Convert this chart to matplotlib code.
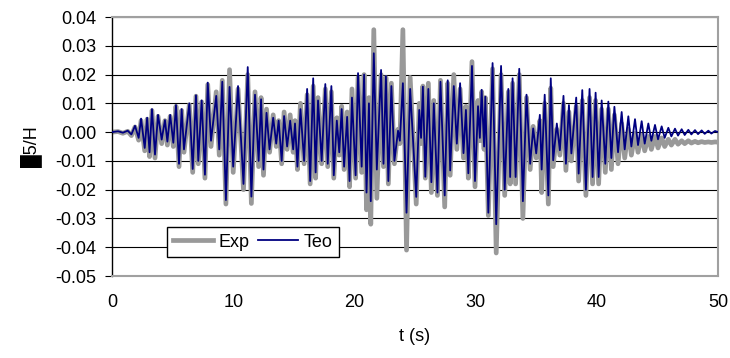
import numpy as np
import matplotlib
matplotlib.use("Agg")
import matplotlib.pyplot as plt

plt.rcParams["font.family"] = ["Liberation Sans", "DejaVu Sans"]

# turning points of both records (t in s, value = d5/H)
T_PTS = [
    0.0, 0.5, 0.9, 1.3, 1.6, 1.9, 2.2, 2.4, 2.7, 2.9,
    3.1, 3.3, 3.55, 3.8, 4.1, 4.37, 4.57, 4.8, 5.06, 5.28,
    5.53, 5.75, 5.94, 6.38, 6.66, 6.93, 7.12, 7.4, 7.67, 7.9,
    8.17, 8.6, 8.85, 9.1, 9.4, 9.7, 10.0, 10.4, 10.85, 11.2,
    11.5, 11.8, 12.1, 12.3, 12.5, 12.75, 13.0, 13.3, 13.55, 13.75,
    14.0, 14.2, 14.45, 14.7, 14.95, 15.1, 15.3, 15.55, 15.85, 16.1,
    16.35, 16.6, 16.8, 17.0, 17.3, 17.6, 17.8, 18.1, 18.3, 18.55,
    18.75, 18.95, 19.15, 19.4, 19.6, 19.8, 20.1, 20.3, 20.6, 20.8,
    21.0, 21.2, 21.35, 21.6, 21.85, 22.2, 22.4, 22.6, 22.8, 23.05,
    23.3, 23.6, 23.75, 24.0, 24.3, 24.6, 25.1, 25.35, 25.5, 25.65,
    25.85, 26.1, 26.35, 26.55, 26.85, 27.1, 27.45, 27.7, 27.9, 28.2,
    28.45, 28.72, 29.0, 29.2, 29.4, 29.7, 29.95, 30.2, 30.35, 30.5,
    30.7, 30.8, 31.05, 31.4, 31.7, 32.1, 32.4, 32.7, 32.85, 33.05,
    33.3, 33.6, 33.9, 34.2, 34.5, 34.75, 35.0, 35.3, 35.45, 35.7,
    36.0, 36.2, 36.4, 36.7, 36.95, 37.25, 37.45, 37.7, 37.9, 38.3,
    38.5, 38.8, 39.1, 39.4, 39.65, 39.9, 40.15, 40.4, 40.7, 40.95,
    41.2, 41.45, 41.75, 42.05, 42.3, 42.6, 42.85, 43.15, 43.4, 43.7,
    43.95, 44.25, 44.5, 44.8, 45.05, 45.35, 45.6, 45.9, 46.15, 46.45,
    46.7, 47.0, 47.25, 47.55, 47.8, 48.1, 48.35, 48.65, 48.9, 49.2,
    49.45, 49.75, 50.0,
]

TEO = [
    0.0, 0.0003, -0.0002, 0.0005, -0.0008, 0.0022, -0.0020, 0.0047, -0.0055, 0.0050,
    -0.0070, 0.0080, -0.0078, 0.0060, -0.0026, 0.0042, -0.0033, 0.0060, -0.0037, 0.0094,
    -0.0110, 0.0080, -0.0060, 0.0100, -0.0128, 0.0128, -0.0100, 0.0110, -0.0148, 0.0172,
    -0.0030, 0.0126, -0.0060, 0.0175, -0.0236, 0.0157, -0.0120, 0.0160, -0.0180, 0.0226,
    -0.0224, 0.0130, -0.0100, 0.0114, -0.0130, 0.0067, -0.0060, 0.0050, -0.0040, 0.0040,
    -0.0100, 0.0056, -0.0050, 0.0040, -0.0060, 0.0030, -0.0120, 0.0080, -0.0100, 0.0150,
    -0.0170, 0.0187, -0.0140, 0.0110, -0.0100, 0.0167, -0.0110, 0.0160, -0.0150, 0.0040,
    -0.0070, 0.0080, -0.0120, 0.0053, -0.0170, 0.0120, -0.0150, 0.0205, -0.0120, 0.0200,
    -0.0210, 0.0100, -0.0240, 0.0274, -0.0130, 0.0216, -0.0110, 0.0195, -0.0170, 0.0160,
    -0.0100, 0.0005, -0.0030, 0.0170, -0.0280, 0.0150, -0.0225, 0.0077, -0.0020, 0.0158,
    -0.0155, 0.0150, -0.0174, 0.0100, -0.0210, 0.0175, -0.0220, 0.0180, -0.0133, 0.0160,
    -0.0040, 0.0170, -0.0073, 0.0077, -0.0143, 0.0230, -0.0170, 0.0090, -0.0020, 0.0147,
    -0.0050, 0.0123, -0.0280, 0.0240, -0.0320, 0.0230, -0.0200, 0.0150, -0.0156, 0.0187,
    -0.0156, 0.0220, -0.0240, 0.0130, -0.0110, 0.0013, -0.0074, 0.0060, -0.0130, 0.0130,
    -0.0220, 0.0187, -0.0098, 0.0030, -0.0063, 0.0126, -0.0110, 0.0094, -0.0074, 0.0120,
    -0.0144, 0.0146, -0.0200, 0.0150, -0.0156, 0.0137, -0.0156, 0.0110, -0.0110, 0.0106,
    -0.0090, 0.0088, -0.0070, 0.0070, -0.0060, 0.0055, -0.0050, 0.0045, -0.0045, 0.0038,
    -0.0040, 0.0030, -0.0030, 0.0025, -0.0025, 0.0020, -0.0020, 0.0015, -0.0015, 0.0012,
    -0.0012, 0.0010, -0.0010, 0.0008, -0.0008, 0.0007, -0.0007, 0.0006, -0.0006, 0.0005,
    -0.0005, 0.0004, 0.0,
]

EXP = [
    0.0, 0.0002, -0.0004, 0.0003, -0.0012, 0.0018, -0.0028, 0.0040, -0.0065, 0.0045,
    -0.0085, 0.0075, -0.0090, 0.0055, -0.0040, 0.0040, -0.0045, 0.0055, -0.0050, 0.0090,
    -0.0120, 0.0075, -0.0070, 0.0095, -0.0140, 0.0125, -0.0110, 0.0105, -0.0160, 0.0165,
    -0.0050, 0.0140, -0.0080, 0.0180, -0.0250, 0.0217, -0.0140, 0.0150, -0.0200, 0.0200,
    -0.0248, 0.0140, -0.0120, 0.0120, -0.0150, 0.0080, -0.0070, 0.0060, -0.0050, 0.0040,
    -0.0110, 0.0070, -0.0060, 0.0060, -0.0070, 0.0040, -0.0130, 0.0100, -0.0110, 0.0130,
    -0.0180, 0.0160, -0.0160, 0.0120, -0.0110, 0.0150, -0.0120, 0.0140, -0.0160, 0.0050,
    -0.0080, 0.0090, -0.0130, 0.0070, -0.0190, 0.0150, -0.0160, 0.0190, -0.0140, 0.0200,
    -0.0270, 0.0120, -0.0320, 0.0356, -0.0230, 0.0200, -0.0120, 0.0190, -0.0180, 0.0170,
    -0.0110, 0.0010, -0.0040, 0.0356, -0.0410, 0.0190, -0.0250, 0.0100, -0.0040, 0.0160,
    -0.0160, 0.0170, -0.0210, 0.0110, -0.0220, 0.0180, -0.0260, 0.0170, -0.0150, 0.0200,
    -0.0060, 0.0150, -0.0090, 0.0090, -0.0160, 0.0245, -0.0190, 0.0110, -0.0030, 0.0140,
    -0.0060, 0.0120, -0.0290, 0.0220, -0.0420, 0.0200, -0.0220, 0.0140, -0.0180, 0.0170,
    -0.0180, 0.0200, -0.0300, 0.0120, -0.0130, 0.0020, -0.0090, 0.0040, -0.0210, 0.0100,
    -0.0250, 0.0153, -0.0120, 0.0010, -0.0080, 0.0100, -0.0133, 0.0070, -0.0100, 0.0090,
    -0.0170, 0.0110, -0.0220, 0.0120, -0.0180, 0.0110, -0.0180, 0.0080, -0.0140, 0.0080,
    -0.0130, 0.0060, -0.0110, 0.0030, -0.0090, 0.0010, -0.0080, -0.0005, -0.0070, -0.0010,
    -0.0065, -0.0015, -0.0060, -0.0015, -0.0055, -0.0020, -0.0050, -0.0025, -0.0045, -0.0025,
    -0.0042, -0.0030, -0.0040, -0.0030, -0.0038, -0.0032, -0.0037, -0.0033, -0.0036, -0.0034,
    -0.0036, -0.0034, -0.0035,
]

Y_TICKS = [-0.05, -0.04, -0.03, -0.02, -0.01, 0.00, 0.01, 0.02, 0.03, 0.04]
X_TICKS = [0, 10, 20, 30, 40, 50]

fig = plt.figure(figsize=(7.3, 3.58), dpi=100)
ax = fig.add_axes([0.1534, 0.229, 0.8302, 0.7235])

ax.plot(T_PTS, EXP, color="#999999", lw=3.4, label="Exp", zorder=2)
ax.plot(T_PTS, TEO, color="#000080", lw=1.3, label="Teo", zorder=3)

ax.set_xlim(0, 50)
ax.set_ylim(-0.05, 0.04)
ax.set_yticks(Y_TICKS)
ax.set_yticklabels([f"{v:.2f}" for v in Y_TICKS])
ax.set_xticks(X_TICKS)

ax.yaxis.grid(True, color="black", lw=0.8)
ax.set_axisbelow(True)
for side in ("top", "right", "bottom"):
    ax.spines[side].set_color("#a0a0a0")
    ax.spines[side].set_linewidth(1.5)
ax.spines["left"].set_color("black")
ax.spines["left"].set_linewidth(1.0)

ax.tick_params(axis="y", direction="out", length=5, width=0.8, pad=6, labelsize=13)
ax.tick_params(axis="x", length=0, pad=13, labelsize=13)

ax.set_xlabel("t (s)", fontsize=13, labelpad=12)
ax.set_ylabel("\u25885/H", fontsize=13, labelpad=10)

leg = ax.legend(ncol=2, loc="lower left", bbox_to_anchor=(0.0908, 0.0734),
                borderaxespad=0, fancybox=False, edgecolor="black",
                framealpha=1, fontsize=13, handlelength=2.2,
                columnspacing=0.5, handletextpad=0.3, borderpad=0.35)
leg.get_frame().set_linewidth(1.0)

fig.savefig("out.png", dpi=100)
plt.close(fig)
